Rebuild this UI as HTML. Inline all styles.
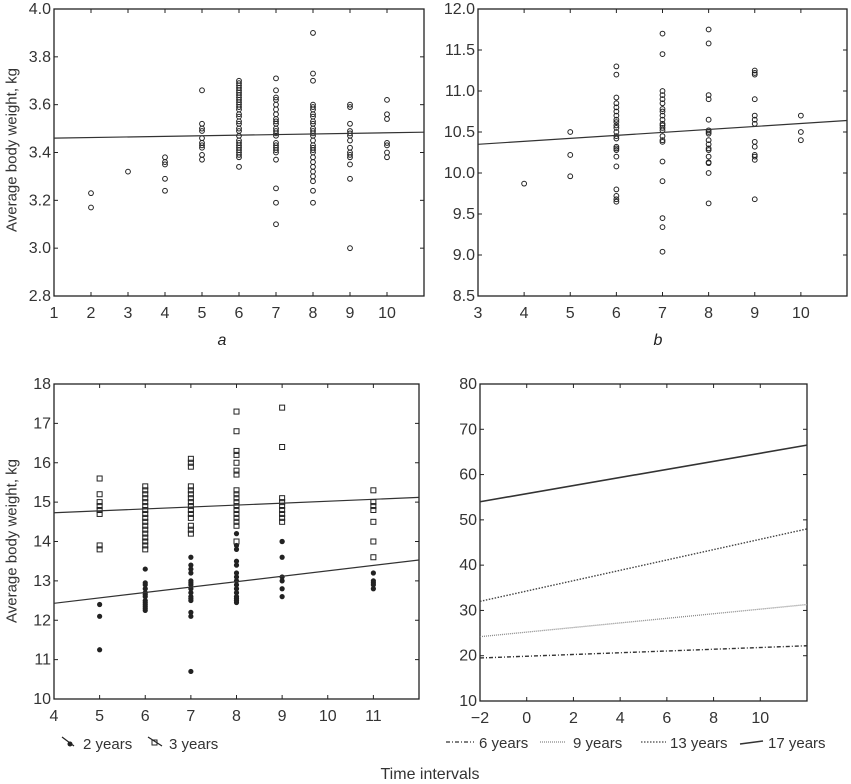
<!DOCTYPE html>
<html><head><meta charset="utf-8"><style>
body{margin:0;background:#fff;}
svg{display:block;font-family:"Liberation Sans",sans-serif;}
</style></head><body>
<svg id="fig" width="851" height="784" viewBox="0 0 851 784" xmlns="http://www.w3.org/2000/svg">
<text x="12" y="150" transform="rotate(-90 12 150)" text-anchor="middle" dominant-baseline="central" font-size="15" fill="#333">Average body weight, kg</text>
<text x="12" y="541" transform="rotate(-90 12 541)" text-anchor="middle" dominant-baseline="central" font-size="15" fill="#333">Average body weight, kg</text>
<text x="222" y="345" font-size="16" font-style="italic" text-anchor="middle" fill="#222">a</text>
<text x="658" y="345" font-size="16" font-style="italic" text-anchor="middle" fill="#222">b</text>
<text x="430" y="779" font-size="16" text-anchor="middle" fill="#333">Time intervals</text>
<g>
<g><line x1="62" y1="737" x2="74" y2="746" stroke="#222" stroke-width="1.2"/><circle cx="70" cy="744" r="2.5" fill="#222"/><text x="83" y="749" font-size="15" fill="#333">2 years</text></g>
<g><line x1="148" y1="737" x2="162" y2="746" stroke="#222" stroke-width="1.2"/><rect x="152" y="740" width="5" height="5" fill="none" stroke="#222"/><text x="169" y="749" font-size="15" fill="#333">3 years</text></g>
</g>
<g>
<g><line x1="446" y1="742" x2="474" y2="742" stroke="#333" stroke-width="1.3" stroke-dasharray="4 2 1 2"/><text x="479" y="748" font-size="15" fill="#333">6 years</text></g>
<g><line x1="540" y1="742" x2="566" y2="742" stroke="#888" stroke-width="1.3" stroke-dasharray="1 1"/><text x="573" y="748" font-size="15" fill="#333">9 years</text></g>
<g><line x1="641" y1="742" x2="666" y2="742" stroke="#444" stroke-width="1.3" stroke-dasharray="1.5 1.5"/><text x="670" y="748" font-size="15" fill="#333">13 years</text></g>
<g><line x1="740" y1="744" x2="763" y2="741" stroke="#333" stroke-width="1.6"/><text x="768" y="748" font-size="15" fill="#333">17 years</text></g>
</g>
</svg>
<script>
// Panel a data
const aX=[2,3,4,5,6,7,8,9,10];
const aY=[[3.23,3.17],[3.32],[3.38,3.36,3.35,3.29,3.24],[3.66,3.52,3.50,3.49,3.46,3.44,3.43,3.42,3.39,3.37],
[3.70,3.69,3.68,3.67,3.66,3.65,3.64,3.63,3.62,3.61,3.60,3.59,3.58,3.56,3.55,3.53,3.52,3.50,3.49,3.47,3.45,3.44,3.43,3.42,3.41,3.40,3.39,3.38,3.34],
[3.71,3.66,3.63,3.62,3.60,3.58,3.56,3.54,3.53,3.52,3.50,3.49,3.48,3.47,3.44,3.43,3.42,3.41,3.40,3.37,3.25,3.19,3.10],
[3.90,3.73,3.70,3.60,3.59,3.58,3.56,3.55,3.53,3.52,3.50,3.49,3.48,3.47,3.45,3.43,3.42,3.41,3.40,3.38,3.36,3.34,3.32,3.30,3.28,3.24,3.19],
[3.60,3.59,3.52,3.49,3.48,3.47,3.45,3.42,3.40,3.39,3.38,3.35,3.29,3.00],
[3.62,3.56,3.54,3.44,3.43,3.40,3.38]];
const aFit=[3.46,3.485];
const aXTicks=[1,2,3,4,5,6,7,8,9,10];
const aYTicks=["2.8","3.0","3.2","3.4","3.6","3.8","4.0"];
// Panel b data
const bX=[4,5,6,7,8,9,10];
const bY=[[9.87],[10.5,10.22,9.96],
[11.3,11.2,10.92,10.85,10.8,10.75,10.7,10.65,10.62,10.58,10.55,10.5,10.45,10.42,10.32,10.3,10.28,10.2,10.08,9.8,9.72,9.68,9.65],
[11.7,11.45,11.0,10.95,10.9,10.85,10.78,10.75,10.7,10.65,10.6,10.58,10.55,10.52,10.45,10.4,10.38,10.14,9.9,9.45,9.34,9.04],
[11.75,11.58,10.95,10.9,10.65,10.52,10.5,10.48,10.4,10.35,10.3,10.28,10.2,10.13,10.12,10.0,9.63],
[11.25,11.22,11.2,10.9,10.7,10.65,10.6,10.38,10.32,10.22,10.2,10.16,9.68],
[10.7,10.5,10.4]];
const bFit=[10.35,10.64];
const bXTicks=[3,4,5,6,7,8,9,10];
const bYTicks=["8.5","9.0","9.5","10.0","10.5","11.0","11.5","12.0"];
// Panel c data
const cX=[5,6,7,8,9,11];
const c3Y=[[15.6,15.2,15.0,14.9,14.8,14.7,13.9,13.8],
[15.4,15.3,15.2,15.1,15.0,14.9,14.8,14.7,14.6,14.5,14.4,14.3,14.2,14.1,14.0,13.9,13.8],
[16.1,16.0,15.9,15.4,15.3,15.2,15.1,15.0,14.9,14.8,14.7,14.6,14.4,14.3,14.2],
[17.3,16.8,16.3,16.2,16.0,15.8,15.7,15.3,15.2,15.1,15.0,14.9,14.8,14.7,14.6,14.5,14.4,14.0],
[17.4,16.4,15.1,15.0,14.9,14.8,14.7,14.6,14.5],
[15.3,15.0,14.9,14.8,14.5,14.0,13.6]];
const c2Y=[[12.4,12.1,11.25],
[13.3,12.95,12.9,12.8,12.7,12.65,12.6,12.5,12.45,12.4,12.35,12.3,12.25],
[13.6,13.4,13.3,13.2,13.0,12.95,12.9,12.8,12.7,12.6,12.55,12.5,12.2,12.1,10.7],
[14.2,13.9,13.8,13.5,13.4,13.2,13.1,13.0,12.9,12.8,12.7,12.6,12.55,12.5,12.45],
[14.0,14.0,13.6,13.1,13.0,12.8,12.6],
[13.2,13.0,12.95,12.9,12.8]];
const c3Fit=[14.73,15.12];
const c2Fit=[12.43,13.53];
const cXTicks=[4,5,6,7,8,9,10,11];
const cYTicks=["10","11","12","13","14","15","16","17","18"];
// Panel d data
const dNames=["6-years","9-years","13-years","17-years"];
const dStart=[19.5,24.2,32,54];
const dEnd=[22.2,31.3,48,66.5];
const dXTicks=[-2,0,2,4,6,8,10];
const dYTicks=["10","20","30","40","50","60","70","80"];

const NS="http://www.w3.org/2000/svg";
const svg=document.getElementById('fig');
function mk(tag,attrs,parent){const e=document.createElementNS(NS,tag);for(const k in attrs)e.setAttribute(k,attrs[k]);(parent||svg).appendChild(e);return e;}
function scale(d0,d1,r0,r1){return v=>r0+(v-d0)*(r1-r0)/(d1-d0);}

function panel(name,L,R,T,B,x0,x1,y0,y1,xt,yt){
  const g=mk('g',{});
  
  
  const sx=scale(x0,x1,L,R), sy=scale(y0,y1,B,T);
  const fr=mk('rect',{x:L,y:T,width:R-L,height:B-T,fill:'none',stroke:'#222','stroke-width':1.3},g);
  
  
  xt.forEach(v=>{
    const x=sx(v);
    mk('line',{x1:x,y1:B,x2:x,y2:B-4,stroke:'#222'},g);
    mk('line',{x1:x,y1:T,x2:x,y2:T+4,stroke:'#222'},g);
    const t=mk('text',{x:x,y:B+22,'text-anchor':'middle','font-size':16,fill:'#333'},g);
    t.textContent=v<0?'\u2212'+(-v):v;
    
    
  });
  yt.forEach(s=>{
    const y=sy(parseFloat(s));
    mk('line',{x1:L,y1:y,x2:L+4,y2:y,stroke:'#222'},g);
    mk('line',{x1:R,y1:y,x2:R-4,y2:y,stroke:'#222'},g);
    const t=mk('text',{x:L-3,y:y+5,'text-anchor':'end','font-size':16,fill:'#333'},g);
    t.textContent=s;
    
    
  });
  return {g,sx,sy};
}
function circles(p,xs,ys,name){
  xs.forEach((x,i)=>ys[i].forEach(v=>{
    const c=mk('circle',{cx:p.sx(x),cy:p.sy(v),r:2.4,fill:'none',stroke:'#222','stroke-width':1},p.g);
    
    
  }));
}
function fit(p,x0,x1,ys,name,extra){
  const l=mk('line',Object.assign({x1:p.sx(x0),y1:p.sy(ys[0]),x2:p.sx(x1),y2:p.sy(ys[1]),stroke:'#333','stroke-width':1.2},extra||{}),p.g);
  
  
}

const pa=panel('panel-a',54,424,9,296,1,11,2.8,4.0,aXTicks,aYTicks);
circles(pa,aX,aY,'point-a');
fit(pa,1,11,aFit,'trend-line-a');

const pb=panel('panel-b',478,847,9,296,3,11,8.5,12.0,bXTicks,bYTicks);
circles(pb,bX,bY,'point-b');
fit(pb,3,11,bFit,'trend-line-b');

const pc=panel('panel-c',54,419,384,699,4,12,10,18,cXTicks,cYTicks);
cX.forEach((x,i)=>c3Y[i].forEach(v=>{
  const r=mk('rect',{x:pc.sx(x)-2.5,y:pc.sy(v)-2.5,width:5,height:5,fill:'none',stroke:'#222','stroke-width':1},pc.g);
  
  
}));
cX.forEach((x,i)=>c2Y[i].forEach(v=>{
  const c=mk('circle',{cx:pc.sx(x),cy:pc.sy(v),r:2.6,fill:'#222'},pc.g);
  
  
}));
fit(pc,4,12,c3Fit,'trend-line-3-years');
fit(pc,4,12,c2Fit,'trend-line-2-years');

const pd=panel('panel-d',480,807,384,701,-2,12,10,80,dXTicks,dYTicks);
const dStyles=[{'stroke-dasharray':'4 2 1 2',stroke:'#333','stroke-width':1.4},{'stroke-dasharray':'1 1',stroke:'#888','stroke-width':1.3},{'stroke-dasharray':'1.5 1.5',stroke:'#444','stroke-width':1.4},{stroke:'#333','stroke-width':1.6}];
dNames.forEach((n,i)=>fit(pd,-2,12,[dStart[i],dEnd[i]],'line-'+n,dStyles[i]));
</script>
</body></html>
